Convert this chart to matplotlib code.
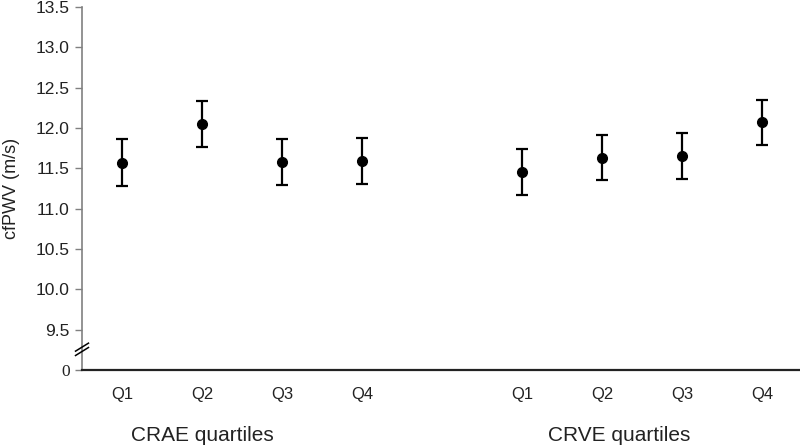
import matplotlib
matplotlib.use("Agg")
import matplotlib.pyplot as plt
import matplotlib.transforms as mtransforms

# Data
quartiles = ["Q1", "Q2", "Q3", "Q4"]
groups = ["CRAE quartiles", "CRVE quartiles"]
crae_mean = [11.57, 12.05, 11.58, 11.59]
crae_err = [0.29, 0.29, 0.285, 0.285]
crve_mean = [11.45, 11.63, 11.65, 12.07]
crve_err = [0.285, 0.28, 0.285, 0.28]
yticks = [9.5, 10.0, 10.5, 11.0, 11.5, 12.0, 12.5, 13.0, 13.5]

plt.rcParams['font.family'] = ['Liberation Sans', 'DejaVu Sans']

fig = plt.figure(figsize=(8, 4.45), dpi=100)
ax = fig.add_axes([0.1025, 0.1685, 0.8975, 0.8158])

pos_crae = [1, 2, 3, 4]
pos_crve = [6, 7, 8, 9]

for pos, m, e in ((pos_crae, crae_mean, crae_err), (pos_crve, crve_mean, crve_err)):
    ax.errorbar(pos, m, yerr=e, fmt='o', color='black', ecolor='black',
                markersize=7, elinewidth=1.6, capsize=4, capthick=1.6, zorder=3)

ax.set_xlim(0.5, 9.475)
ax.set_ylim(9.0, 13.5)
ax.set_yticks([9.0] + yticks)
ax.set_yticklabels(["0"] + [f"{t:.1f}" for t in yticks])
for lab in ax.get_yticklabels():
    if lab.get_text() == "0":
        lab.set_family(['Liberation Serif'])
ax.tick_params(axis='y', direction='out', length=5, width=1, color='#808080',
               labelsize=12.5, labelcolor='#222222', pad=4)
ax.set_xticks(pos_crae + pos_crve)
ax.set_xticklabels(quartiles + quartiles)
ax.tick_params(axis='x', length=0, labelsize=12, labelcolor='#222222', pad=12)

for s in ['top', 'right']:
    ax.spines[s].set_visible(False)
ax.spines['left'].set_color('#808080')
ax.spines['left'].set_linewidth(1.2)
ax.spines['bottom'].set_color('#222222')
ax.spines['bottom'].set_linewidth(1.6)

ax.set_ylabel("cfPWV (m/s)", fontsize=13, color='#222222', labelpad=11)

# group labels
gt = mtransforms.blended_transform_factory(ax.transData, ax.transAxes)
ax.text(2.0, -0.18, groups[0], transform=gt,
        ha='center', va='center', fontsize=15, color='#222222')
ax.text(7.21, -0.18, groups[1], transform=gt,
        ha='center', va='center', fontsize=15, color='#222222')

# axis break marks
for off in (-0.006, 0.006):
    ax.plot([-0.009, 0.009], [0.046 + off, 0.068 + off], transform=ax.transAxes,
            color='black', lw=1.1, clip_on=False, zorder=4)

fig.savefig("out.png", dpi=100)
